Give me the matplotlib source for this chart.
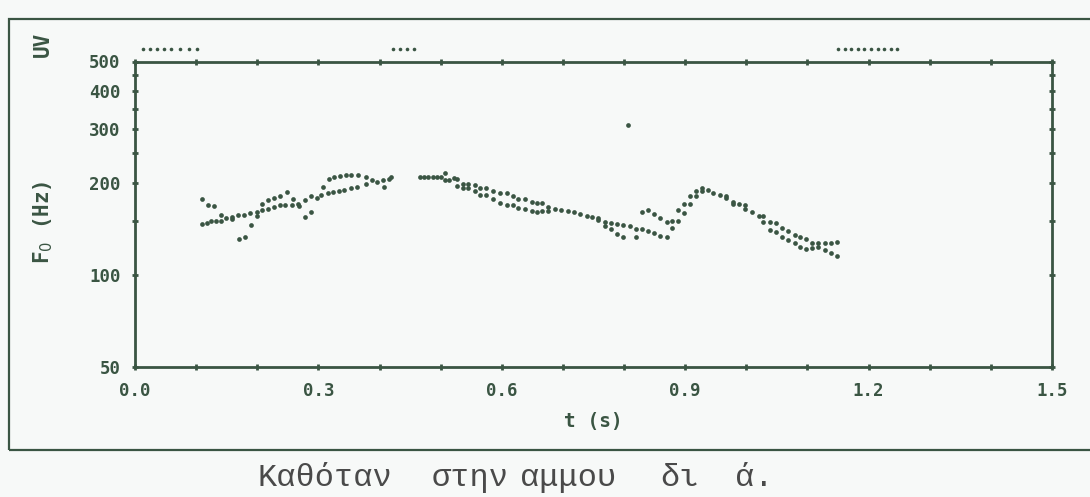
import matplotlib
matplotlib.use("Agg")
import matplotlib.pyplot as plt
from matplotlib.patches import Rectangle
from matplotlib.ticker import FixedLocator, NullLocator

# ---------------- data ----------------
t_f0 = [0.110, 0.120, 0.130,
        0.109, 0.117, 0.125, 0.132, 0.140, 0.140, 0.149, 0.159, 0.159, 0.169, 0.178, 0.188,
        0.190, 0.199, 0.199, 0.208, 0.208, 0.218, 0.218, 0.228, 0.228, 0.237, 0.237, 0.245,
        0.248, 0.256, 0.259, 0.267, 0.269, 0.278, 0.288, 0.297, 0.305, 0.308, 0.315, 0.317,
        0.324, 0.326, 0.334, 0.335, 0.342, 0.345, 0.353, 0.354, 0.363, 0.365,
        0.170, 0.180, 0.278, 0.288,
        0.378, 0.378, 0.387, 0.396, 0.406, 0.407, 0.416, 0.418,
        0.466, 0.473, 0.480, 0.487, 0.494, 0.501, 0.507, 0.507, 0.514, 0.521, 0.527, 0.527,
        0.536, 0.536, 0.545, 0.545, 0.556, 0.556, 0.565, 0.565, 0.574, 0.574, 0.586, 0.586,
        0.597, 0.597, 0.608, 0.608, 0.618, 0.618, 0.627, 0.627, 0.638, 0.638, 0.649, 0.649,
        0.657, 0.657, 0.666, 0.666, 0.676, 0.676, 0.687, 0.697, 0.708, 0.718, 0.728, 0.739,
        0.748, 0.758, 0.758, 0.769, 0.769, 0.779, 0.779, 0.789, 0.789, 0.799, 0.799, 0.810,
        0.819, 0.819, 0.829, 0.829, 0.839, 0.839, 0.849, 0.849, 0.859, 0.859, 0.870, 0.870,
        0.879, 0.879, 0.888, 0.888, 0.898, 0.898, 0.908, 0.908, 0.917, 0.917, 0.927, 0.927,
        0.937,
        0.946, 0.957, 0.967, 0.967, 0.978, 0.978, 0.988, 0.998, 0.998, 1.009, 1.020, 1.028,
        1.028, 1.038, 1.038, 1.048, 1.048, 1.059, 1.059, 1.068, 1.068, 1.079, 1.079, 1.088,
        1.088, 1.098, 1.098, 1.108, 1.108, 1.118, 1.118, 1.129, 1.129, 1.138, 1.138, 1.148,
        1.148,
        0.807]
f0_hz = [178, 170, 168,
         146.5, 147.5, 150, 150, 150.5, 157, 154, 153, 155, 157, 157.5, 160,
         146, 160.5, 156, 163.5, 171, 165, 176, 167, 179, 169, 182, 169,
         187, 170, 177, 171, 168, 176, 181, 178.5, 183, 194, 186, 207,
         187, 210, 188, 211, 190, 212, 192, 213, 194, 213,
         131.5, 133, 155, 161,
         210, 199, 205, 201, 205, 194, 206, 209,
         210, 210, 210, 210, 210, 209, 216, 205, 205, 208, 207, 195,
         199, 192, 199, 192, 197, 189, 192, 182.5, 192, 182.5, 189, 178,
         185, 172, 185, 170, 181, 170, 178, 166, 177, 164, 174, 162,
         172, 161, 172, 162.5, 166.5, 162.5, 164, 163, 162, 160.5, 158, 156,
         155, 154, 151, 149.5, 145, 148.5, 141, 147, 136.5, 145.5, 133, 144.5,
         142, 133, 141, 160.5, 163, 139.5, 158, 137.5, 154, 134.5, 149, 133,
         143, 150.5, 150.5, 163.5, 160, 171, 171, 181.5, 181.5, 188, 193, 189,
         190.5,
         186, 183, 181, 178.5, 174, 171, 171, 169.5, 165, 161, 156.5, 155.5,
         149.5, 149.5, 140.5, 147.5, 138, 143, 133, 139, 130, 135.5, 127, 133,
         123.5, 131, 121.5, 127, 122.5, 127, 123.5, 127.5, 120.5, 127.5, 118.5, 128.5,
         115,
         309]

# unvoiced frames (UV row)
t_uv = [0.013, 0.024, 0.036, 0.047, 0.059,
        0.074, 0.088, 0.101,
        0.422, 0.434, 0.445, 0.456,
        1.150, 1.161, 1.172, 1.182, 1.193, 1.204, 1.215, 1.225, 1.236, 1.247]

y_ticks = [50, 100, 150, 200, 250, 300, 350, 400, 450, 500]
y_labels = ["50", "100", "", "200", "", "300", "", "400", "", "500"]
x_ticks = [0.0, 0.1, 0.2, 0.3, 0.4, 0.5, 0.6, 0.7, 0.8, 0.9, 1.0, 1.1, 1.2, 1.3, 1.4, 1.5]
x_labels = ["0.0", "", "", "0.3", "", "", "0.6", "", "", "0.9", "", "", "1.2", "", "", "1.5"]

caption_words = ["Καθόταν", "στην", "αμμου", "δι", "ά."]
caption_x_px = [258, 432, 520, 660, 735]

# ---------------- style ----------------
INK = "#3a5543"
BG = "#f7f9f8"
MONO = "DejaVu Sans Mono"

W, H = 1090, 497
fig = plt.figure(figsize=(W / 100, H / 100), dpi=100, facecolor=BG)

# outer frame
fig.patches.append(Rectangle((9 / W, 1 - 450 / H), 1.2, (450 - 19) / H,
                             transform=fig.transFigure, fill=False,
                             edgecolor=INK, linewidth=1.6))

ax_l, ax_r, ax_t, ax_b = 135, 1052, 61.5, 367
ax = fig.add_axes([ax_l / W, 1 - ax_b / H, (ax_r - ax_l) / W, (ax_b - ax_t) / H])
ax.set_facecolor("none")
ax.set_yscale("log")
ax.set_xlim(0, 1.5)
ax.set_ylim(50, 500)

ax.plot(t_f0, f0_hz, linestyle="none", marker="o", markersize=3.4,
        color=INK, markeredgewidth=0)

# UV row above plot
ax.plot(t_uv, [1.04] * len(t_uv), linestyle="none", marker="o", markersize=2.6,
        color=INK, markeredgewidth=0, transform=ax.get_xaxis_transform(), clip_on=False)

for s in ax.spines.values():
    s.set_color(INK)
    s.set_linewidth(2.0)

ax.yaxis.set_major_locator(FixedLocator(y_ticks))
ax.yaxis.set_minor_locator(NullLocator())
ax.set_yticklabels(y_labels)
ax.xaxis.set_major_locator(FixedLocator(x_ticks))
ax.xaxis.set_minor_locator(NullLocator())
ax.set_xticklabels(x_labels)

ax.tick_params(axis="both", which="major", direction="inout", length=5, width=2.0,
               color=INK, labelcolor=INK, top=True, right=True)
ax.tick_params(axis="y", pad=8)
ax.tick_params(axis="x", pad=8)
for lab in ax.get_xticklabels() + ax.get_yticklabels():
    lab.set_fontfamily(MONO)
    lab.set_fontweight("bold")
    lab.set_fontsize(12.5)

ax.set_xlabel("t (s)", fontfamily=MONO, fontweight="bold", fontsize=14, color=INK,
              labelpad=9)

fig.text(43 / W, 1 - 222 / H, "F$_0$ (Hz)", rotation=90, ha="center", va="center",
         fontfamily=MONO, fontweight="bold", fontsize=15, color=INK)
fig.text(43 / W, 1 - 44 / H, "UV", rotation=90, ha="center", va="center",
         fontfamily=MONO, fontweight="bold", fontsize=15, color=INK)

for w, xp in zip(caption_words, caption_x_px):
    fig.text(xp / W, 1 - 478 / H, w, ha="left", va="center",
             fontfamily="Liberation Mono", fontsize=23, color="#4a4a4a")

fig.savefig("out.png", dpi=100, facecolor=BG)
